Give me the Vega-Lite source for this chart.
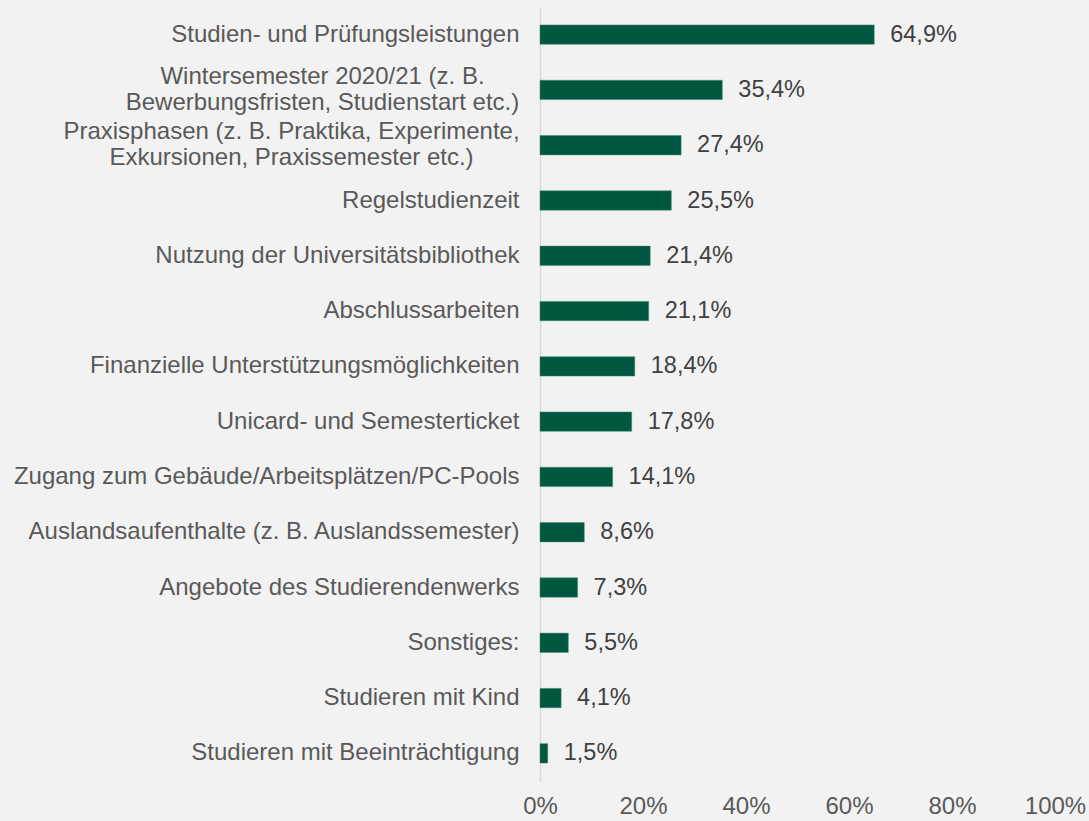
{
  "$schema": "https://vega.github.io/schema/vega-lite/v6.json",
  "width": 515,
  "height": 774,
  "autosize": "none",
  "padding": {"left": 540, "top": 7, "right": 34, "bottom": 40},
  "background": "#f2f2f2",
  "config": {
    "view": {"stroke": null},
    "font": "Liberation Sans",
    "locale": {"number": {"decimal": ",", "thousands": ".", "grouping": [3], "currency": ["", " €"]}}
  },
  "data": {
    "values": [
      {"k": "Studien- und Prüfungsleistungen", "v": 0.649},
      {"k": "Wintersemester 2020/21 (z. B.|Bewerbungsfristen, Studienstart etc.)", "v": 0.354},
      {"k": "Praxisphasen (z. B. Praktika, Experimente,|Exkursionen, Praxissemester etc.)", "v": 0.274},
      {"k": "Regelstudienzeit", "v": 0.255},
      {"k": "Nutzung der Universitätsbibliothek", "v": 0.214},
      {"k": "Abschlussarbeiten", "v": 0.211},
      {"k": "Finanzielle Unterstützungsmöglichkeiten", "v": 0.184},
      {"k": "Unicard- und Semesterticket", "v": 0.178},
      {"k": "Zugang zum Gebäude/Arbeitsplätzen/PC-Pools", "v": 0.141},
      {"k": "Auslandsaufenthalte (z. B. Auslandssemester)", "v": 0.086},
      {"k": "Angebote des Studierendenwerks", "v": 0.073},
      {"k": "Sonstiges:", "v": 0.055},
      {"k": "Studieren mit Kind", "v": 0.041},
      {"k": "Studieren mit Beeinträchtigung", "v": 0.015}
    ]
  },
  "encoding": {
    "y": {
      "field": "k",
      "type": "nominal",
      "sort": null,
      "title": null,
      "scale": {"paddingInner": 0.65, "paddingOuter": 0.325},
      "axis": {
        "labelExpr": "split(datum.label, '|')",
        "labelFontSize": 24,
        "labelColor": "#595959",
        "labelLineHeight": 26,
        "labelPadding": {
          "condition": [
            {"test": "indexof(datum.label, 'Wintersemester') == 0", "value": 218},
            {"test": "indexof(datum.label, 'Praxisphasen') == 0", "value": 249}
          ],
          "value": 21
        },
        "labelAlign": {"condition": {"test": "indexof(datum.label, '|') >= 0", "value": "center"}, "value": "right"},
        "labelLimit": 600,
        "labelOffset": {"condition": {"test": "indexof(datum.label, '|') >= 0", "value": -13}, "value": 0},
        "ticks": false,
        "domainColor": "#d9d9d9",
        "domainWidth": 1.5,
        "grid": false
      }
    },
    "x": {
      "field": "v",
      "type": "quantitative",
      "title": null,
      "scale": {"domain": [0, 1]},
      "axis": {
        "format": ".0%",
        "values": [0, 0.2, 0.4, 0.6, 0.8, 1],
        "labelFontSize": 24,
        "labelColor": "#595959",
        "labelPadding": 13,
        "labelFlush": false,
        "ticks": false,
        "domain": false,
        "grid": false
      }
    }
  },
  "layer": [
    {"mark": {"type": "bar", "color": "#00573f", "stroke": "#3d8c74", "strokeWidth": 0.5}},
    {
      "mark": {"type": "text", "align": "left", "baseline": "middle", "dx": 16, "fontSize": 23.5, "color": "#404040"},
      "encoding": {"text": {"field": "v", "type": "quantitative", "format": ".1%"}}
    }
  ]
}
